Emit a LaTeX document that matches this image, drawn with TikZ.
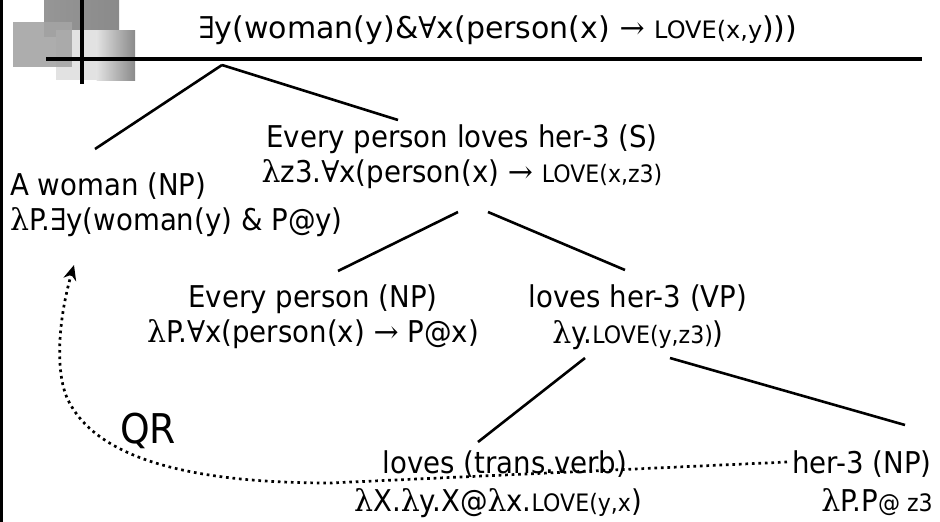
\documentclass[tikz,border=0pt]{standalone}
\usepackage{fontspec}
\setmainfont{DejaVu Sans}[FakeStretch=0.92]
\newfontfamily\titlefont{DejaVu Sans}
\newfontfamily\symf{DejaVu Serif}
\usetikzlibrary{arrows.meta}

% logical symbols set in a serif face, LOVE in a smaller size
\newcommand\lam{{\symf λ}}
\newcommand\exq{{\symf ∃}}
\newcommand\faq{{\symf ∀}}
\newcommand\tto{{\symf →}}
\newcommand\smallpred[1]{{\fontsize{24}{24}\selectfont #1}}

\definecolor{logodark}{HTML}{969696}
\definecolor{logodarker}{HTML}{8A8A8A}
\definecolor{logolight}{HTML}{E2E2E2}
\definecolor{logomid}{HTML}{A4A4A4}

\begin{document}
\begin{tikzpicture}[x=1pt, y=-1pt,
  txt/.style={inner sep=0pt, anchor=base, font=\fontsize{30}{36}\selectfont},
  txtw/.style={txt, anchor=base west},
  branch/.style={line width=2.6pt},
  qrmove/.style={line width=2.7pt, dash pattern=on 2.7pt off 3.8pt,
                 -{Stealth[length=15pt,width=13pt]}}]
\useasboundingbox (0,0) rectangle (940,522);

% slide decoration: left rule, logo squares, title rule
\fill[black] (0,0) rectangle (2.8,522);
\shade[left color=logodark, right color=logodarker] (44,0) rectangle (119,36);
\fill[logolight] (56,30) rectangle (97,80);
\shade[left color=logolight, right color=logodarker] (96.5,30) rectangle (135,80);
\fill[logomid, opacity=0.9] (13,22) rectangle (72,67);
\fill[black] (80,0) rectangle (83.5,84);
\fill[black] (46,57) rectangle (922,61);

% formula of the whole sentence
\node[txt, font=\titlefont\fontsize{30}{36}\selectfont] (title) at (498,38)
  {\exq y(woman(y)\&\faq x(person(x) \tto{} \smallpred{LOVE(x,y})))};
\coordinate (apex) at (222,65);

% tree nodes: category line and meaning line
\node[txtw] (woman) at (10,195) {A woman (NP)};
\node[txtw] (womansem) at (10,230) {\lam P.\exq y(woman(y) \& P@y)};

\node[txt] (S) at (462,147) {Every person loves her-3 (S)};
\node[txt] (Ssem) at (462,182) {\lam z3.\faq x(person(x) \tto{} \smallpred{LOVE(x,z3)}};

\node[txt] (EP) at (313,307) {Every person (NP)};
\node[txt] (EPsem) at (313,342) {\lam P.\faq x(person(x) \tto{} P@x)};

\node[txt] (VP) at (638,307) {loves her-3 (VP)};
\node[txt] (VPsem) at (638,343) {\lam y.\smallpred{LOVE(y,z3)})};

\node[txtw, font=\fontsize{41}{48}\selectfont] (QR) at (120,443) {QR};

\node[txt] (loves) at (505,473) {loves (trans.verb)};
\node[txt] (lovessem) at (498,511) {\lam X.\lam y.X@\lam x.\smallpred{LOVE(y,x})};

\node[txt] (her) at (862,473) {her-3 (NP)};
\node[txt] (hersem) at (877,511) {\lam P.P\smallpred{@ z3}};

% tree branches
\draw[branch] (apex) -- ([shift={(85,-46)}]woman.base west);
\draw[branch] (apex) -- ([shift={(-64,-27)}]S.base);
\draw[branch] ([shift={(-4,30)}]Ssem.base) -- ([shift={(25,-36)}]EP.base);
\draw[branch] ([shift={(26,30)}]Ssem.base) -- ([shift={(-13,-37)}]VP.base);
\draw[branch] ([shift={(-53,15)}]VPsem.base) -- ([shift={(-27,-31)}]loves.base);
\draw[branch] ([shift={(32,15)}]VPsem.base) -- ([shift={(43,-48)}]her.base);

% quantifier raising of her-3 up to the subject
\draw[qrmove] ([shift={(-75,-11)}]her.base) -- (330,483)
  .. controls (180,483) and (95,455) .. (68,400)
  .. controls (55,373) and (58,320) .. ([shift={(64,35)}]womansem.base west);
\end{tikzpicture}
\end{document}
